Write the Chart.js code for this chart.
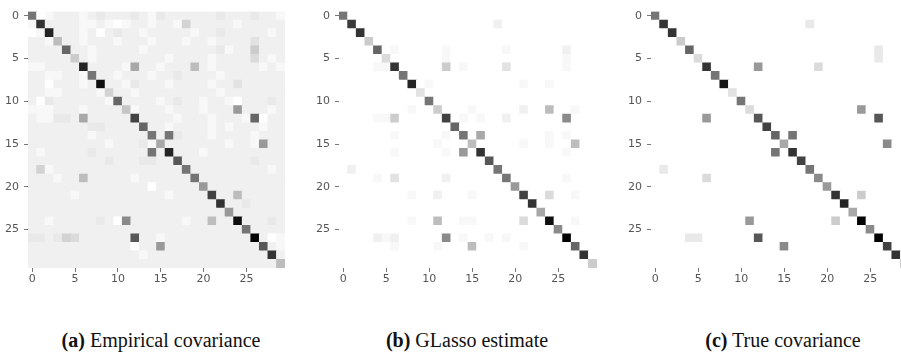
<!DOCTYPE html>
<html>
<head>
<meta charset="utf-8">
<script src="https://cdn.jsdelivr.net/npm/chart.js@4.4.0/dist/chart.umd.min.js"></script>
<style>
  html, body { margin: 0; padding: 0; background: #fff; overflow: hidden; }
  body { width: 901px; height: 356px; position: relative; }
  .panel { position: absolute; top: 0; width: 300px; height: 300px; }
  .cap {
    position: absolute; top: 330px; transform: translateX(-50%);
    font-family: 'Liberation Serif', 'DejaVu Serif', serif; font-size: 20px;
    color: #111; white-space: nowrap; line-height: 1;
  }
</style>
</head>
<body>
<div class="panel" style="left:0"><canvas id="chA" width="300" height="300"></canvas></div>
<div class="panel" style="left:310px"><canvas id="chB" width="300" height="300"></canvas></div>
<div class="panel" style="left:620px"><canvas id="chC" width="300" height="300"></canvas></div>
<div class="cap" style="left:161px"><b>(a)</b> Empirical covariance</div>
<div class="cap" style="left:467px"><b>(b)</b> GLasso estimate</div>
<div class="cap" style="left:783px"><b>(c)</b> True covariance</div>

<script>
// valeurs : un caractere base 36 par case (0 = blanc, z = noir)
const tickVals = [0, 5, 10, 15, 20, 25];

const empirical = [
  'j0122 21232 22321 32222 22322 23221',
  '1s222 21121 01221 22162 22221 22222',
  '01u22 21202 32212 22221 22322 22212',
  '22192 21222 12221 22212 21222 24222',
  '2222l 22122 22212 22222 22312 27222',
  '22222 72122 22222 21222 21222 25212',
  '11222 2u222 21c22 12229 21222 22121',
  '22112 21j22 12221 22322 22122 22222',
  '22022 212x2 21322 21222 21224 22222',
  '22112 22216 22122 22222 22122 22222',
  '20322 22221 l2222 12322 12210 22232',
  '11122 21222 28122 21222 1222e 22212',
  '21133 2c222 22q22 22122 21222 1l022',
  '22222 22332 222l2 21222 21212 22122',
  '22222 22122 2222j 2j322 21222 21222',
  '22222 22221 22231 c2222 22212 21e22',
  '21222 22322 2222j 2u222 12222 22222',
  '22222 22223 22233 22n22 22222 23222',
  '26122 22222 22222 222j2 22222 22212',
  '22212 29222 22122 2222j 22222 22222',
  '22222 22222 22220 22222 e2222 22222',
  '22222 12222 22222 21222 2q229 22222',
  '22222 22222 22222 22222 22s22 32222',
  '22222 22222 22222 22222 222e2 22222',
  '22122 22232 0g222 22212 2922x 22232',
  '22222 22222 22222 22222 22222 j2222',
  '33236 52222 22n22 12222 22222 2z201',
  '22222 22222 22022 e2222 22222 22n21',
  '22222 22222 22212 22222 22222 222s2',
  '22222 22222 22222 22222 22222 22229'
];

const glasso = [
  'j0000 00000 00000 00000 00000 00000',
  '0r000 00000 00000 00020 00000 00000',
  '00s00 00000 00000 00000 00000 00000',
  '00070 00000 00000 00000 00000 00000',
  '0000l 01000 00100 00001 00000 02000',
  '00000 50000 00100 00000 00000 01000',
  '00001 1s000 00701 00004 00000 01000',
  '00000 00j00 00000 00000 00000 00000',
  '00000 000u0 10000 00000 01001 00000',
  '00000 00004 00000 00000 00000 00000',
  '00000 00000 j0000 00000 00000 00000',
  '00000 00010 07000 10000 02009 00100',
  '00001 17000 00q01 01002 00000 0g000',
  '00000 00000 000l0 00000 00000 00000',
  '00000 01000 0010j 0c000 00001 01000',
  '00000 00000 01000 90000 01001 00900',
  '00000 01000 0010e 0s000 00000 01000',
  '00000 00000 00000 00n00 00000 00000',
  '02000 00000 00000 000j0 00000 00000',
  '00001 04000 00200 0000j 00000 01000',
  '00000 00000 00000 00000 e0000 00000',
  '00000 00010 02000 10000 0q005 00100',
  '00000 00000 00000 00000 00s00 00000',
  '00000 00000 00000 00000 000c0 00000',
  '00000 00010 09001 10000 0500x 00100',
  '00000 00000 00000 00000 00000 g0000',
  '00002 12000 00g01 00101 00000 0z000',
  '00000 01000 01000 90000 01000 00l00',
  '00000 00000 00000 00000 00000 000s0',
  '00000 00000 00000 00000 00000 00007'
];

const trueCov = [
  'j0000 00000 00000 00000 00000 00000',
  '0s000 00000 00000 00030 00000 00000',
  '00s00 00000 00000 00000 00000 00000',
  '00070 00000 00000 00000 00000 00000',
  '0000l 00000 00000 00000 00000 03000',
  '00000 50000 00000 00000 00000 03000',
  '00000 0s000 00e00 00005 00000 00000',
  '00000 00j00 00000 00000 00000 00000',
  '00000 000w0 00000 00000 00000 00000',
  '00000 00004 00000 00000 00000 00000',
  '00000 00000 j0000 00000 00000 00000',
  '00000 00000 05000 00000 0000e 00000',
  '00000 0e000 00n00 00000 00000 0n000',
  '00000 00000 000q0 00000 00000 00000',
  '00000 00000 0000l 0j000 00000 00000',
  '00000 00000 00000 c0000 00000 00g00',
  '00000 00000 0000j 0s000 00000 00000',
  '00000 00000 00000 00q00 00000 00000',
  '03000 00000 00000 000j0 00000 00000',
  '00000 05000 00000 0000g 00000 00000',
  '00000 00000 00000 00000 e0000 00000',
  '00000 00000 00000 00000 0s007 00000',
  '00000 00000 00000 00000 00u00 00000',
  '00000 00000 00000 00000 000c0 00000',
  '00000 00000 0e000 00000 0700z 00000',
  '00000 00000 00000 00000 00000 g0000',
  '00003 30000 00n00 00000 00000 0z000',
  '00000 00000 00000 g0000 00000 00q00',
  '00000 00000 00000 00000 00000 000s0',
  '00000 00000 00000 00000 00000 00007'
];

// une case = une barre flottante [ligne-0.5, ligne+0.5]
function toCells(rows) {
  const cells = [];
  rows.forEach((row, r) => {
    row.replace(/ /g, '').split('').forEach((ch, c) => {
      cells.push({ x: c, y: [r - 0.5, r + 0.5], v: parseInt(ch, 36) });
    });
  });
  return cells;
}

function grey(v) {
  const g = Math.round(255 - v * 255 / 35);
  return `rgb(${g},${g},${g})`;
}

const tickFont = { family: 'DejaVu Sans', size: 11 };

function dessinerPanneau(id, rows, leftW, padRight) {
  new Chart(document.getElementById(id), {
    type: 'bar',
    data: {
      datasets: [{
        data: toCells(rows),
        backgroundColor: ctx => ctx.raw ? grey(ctx.raw.v) : '#fff',
        borderWidth: 0,
        barPercentage: 1,
        categoryPercentage: 1,
        grouped: false
      }]
    },
    options: {
      responsive: false,
      animation: false,
      events: [],
      layout: { padding: { top: 10, right: padRight, left: 0, bottom: 0 } },
      plugins: { legend: { display: false }, tooltip: { enabled: false } },
      scales: {
        x: {
          type: 'linear', min: -0.5, max: 29.5, offset: false,
          afterBuildTicks: s => { s.ticks = tickVals.map(v => ({ value: v })); },
          afterFit: s => { s.height = 32; },
          border: { display: false },
          grid: { offset: false, drawOnChartArea: false, drawTicks: true, tickLength: 4, tickColor: '#777', tickWidth: 1 },
          ticks: { color: '#555', font: tickFont, padding: 1, maxRotation: 0, autoSkip: false }
        },
        y: {
          type: 'linear', reverse: true, min: -0.5, max: 29.5,
          afterBuildTicks: s => { s.ticks = tickVals.map(v => ({ value: v })); },
          afterFit: s => { s.width = leftW; },
          border: { display: false },
          grid: { drawOnChartArea: false, drawTicks: true, tickLength: 4, tickColor: '#777', tickWidth: 1 },
          ticks: { color: '#555', font: tickFont, padding: 5, autoSkip: false }
        }
      }
    }
  });
}

dessinerPanneau('chA', empirical, 28, 15);
dessinerPanneau('chB', glasso, 29, 13);
dessinerPanneau('chC', trueCov, 31, 11);
</script>
</body>
</html>
